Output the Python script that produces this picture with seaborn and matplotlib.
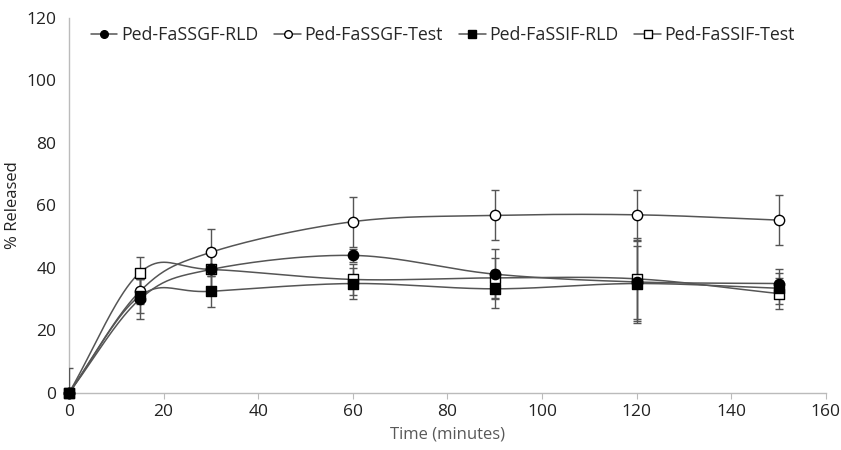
import numpy as np
import pandas as pd
import seaborn as sns
import matplotlib.pyplot as plt
from matplotlib.lines import Line2D

time_min = [0, 15, 30, 60, 90, 120, 150]

series_names = ['Ped-FaSSGF-RLD', 'Ped-FaSSGF-Test', 'Ped-FaSSIF-RLD', 'Ped-FaSSIF-Test']

fassgf_rld = [0, 30.0, 39.5, 44.0, 38.0, 35.5, 35.0]
fassgf_test = [0, 32.5, 45.0, 54.8, 56.8, 57.0, 55.3]
fassif_rld = [0, 31.0, 32.5, 35.0, 33.3, 35.0, 33.5]
fassif_test = [0, 38.5, 39.5, 36.3, 36.8, 36.5, 31.8]

fassgf_rld_sd = [0, 6.5, 6.5, 2.0, 8.0, 13.0, 4.5]
fassgf_test_sd = [0, 4.0, 7.5, 8.0, 8.0, 8.0, 8.0]
fassif_rld_sd = [0, 5.5, 5.0, 5.0, 6.0, 12.0, 5.0]
fassif_test_sd = [8.0, 5.0, 7.0, 5.0, 6.5, 13.0, 5.0]

values = [fassgf_rld, fassgf_test, fassif_rld, fassif_test]
errors = [fassgf_rld_sd, fassgf_test_sd, fassif_rld_sd, fassif_test_sd]
markers = ['o', 'o', 's', 's']
faces = ['black', 'white', 'black', 'white']


def smooth_curve(x, y, n=40):
    # Catmull-Rom style smoothing, similar to Excel "smoothed line"
    x = np.asarray(x, float)
    y = np.asarray(y, float)
    px = np.concatenate([[2 * x[0] - x[1]], x, [2 * x[-1] - x[-2]]])
    py = np.concatenate([[2 * y[0] - y[1]], y, [2 * y[-1] - y[-2]]])
    xs, ys = [], []
    for i in range(1, len(px) - 2):
        p0, p1, p2, p3 = [np.array([px[j], py[j]]) for j in range(i - 1, i + 3)]
        c1 = p1 + (p2 - p0) / 6
        c2 = p2 - (p3 - p1) / 6
        t = np.linspace(0, 1, n)[:, None]
        pts = ((1 - t) ** 3) * p1 + 3 * ((1 - t) ** 2) * t * c1 + 3 * (1 - t) * t ** 2 * c2 + t ** 3 * p2
        xs.extend(pts[:, 0])
        ys.extend(pts[:, 1])
    return np.array(xs), np.array(ys)


sns.set_style('white')
plt.rcParams['font.family'] = ['Open Sans', 'DejaVu Sans']

fig = plt.figure(figsize=(8.41, 4.5), dpi=100)
ax = fig.add_axes([0.082, 0.127, 0.9, 0.833])

line_color = '#555555'
for name, vals, err, m, fc in zip(series_names, values, errors, markers, faces):
    sx, sy = smooth_curve(time_min, vals)
    curve = pd.DataFrame({'t': sx, 'v': sy})
    sns.lineplot(data=curve, x='t', y='v', sort=False, color=line_color,
                 linewidth=1.1, ax=ax, legend=False)
    ax.errorbar(time_min, vals, yerr=err, fmt='none', ecolor=line_color,
                elinewidth=1.0, capsize=3, capthick=1.0, zorder=3)
    pts = pd.DataFrame({'t': time_min, 'v': vals})
    # filled markers sit above the open ones, as in the original
    z = 5 if fc == 'black' else 4
    sns.scatterplot(data=pts, x='t', y='v', marker=m, s=55, color=fc,
                    edgecolor='black', linewidth=1.0, ax=ax, zorder=z,
                    legend=False, clip_on=False)

ax.set_xlim(0, 160)
ax.set_ylim(0, 120)
ax.set_xticks(range(0, 161, 20))
ax.set_yticks(range(0, 121, 20))
ax.set_xlabel('Time (minutes)', fontsize=12, color='#595959', labelpad=5)
ax.set_ylabel('% Released', fontsize=12, color='#222222', labelpad=4)
ax.tick_params(axis='both', labelsize=12.5, colors='#222222')
ax.tick_params(axis='x', length=4, color='#bbbbbb', direction='out', bottom=True, pad=4)
ax.tick_params(axis='y', length=0, pad=9)
for s in ['top', 'right']:
    ax.spines[s].set_visible(False)
for s in ['left', 'bottom']:
    ax.spines[s].set_color('#bbbbbb')
    ax.spines[s].set_linewidth(1.0)

handles = [Line2D([0], [0], color=line_color, marker=m, markerfacecolor=fc,
                  markeredgecolor='black', markersize=5.5, linewidth=1.1)
           for m, fc in zip(markers, faces)]
ax.legend(handles, series_names, loc='center', bbox_to_anchor=(0.494, 0.955),
          ncol=4, frameon=False, fontsize=12.8, handlelength=1.5,
          handletextpad=0.2, columnspacing=0.9)

fig.savefig('out.png', dpi=100)
